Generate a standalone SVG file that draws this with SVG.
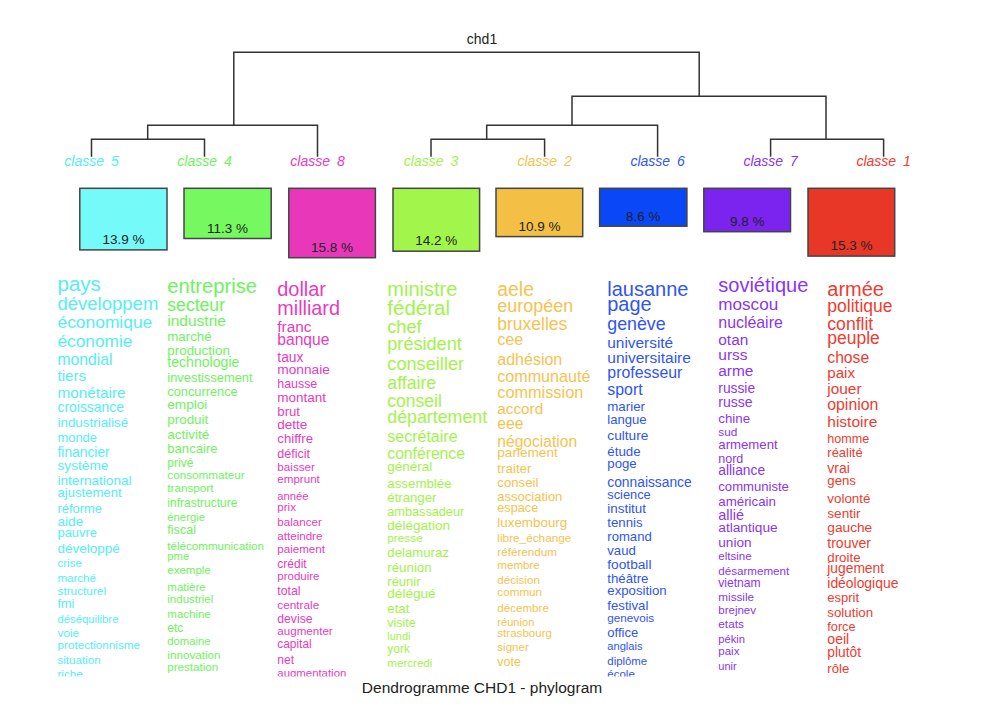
<svg xmlns="http://www.w3.org/2000/svg" width="988" height="720" viewBox="0 0 988 720">
<style>
text{font-family:"Liberation Sans",Arial,sans-serif}
.ln{stroke:#333;stroke-width:1.5;fill:none;stroke-linecap:square}
.box{stroke:#444;stroke-width:1.5}
.pct{fill:#222;font-size:13.5px;text-anchor:middle}
.lab{font-size:14px;font-style:italic;text-anchor:middle;word-spacing:3px}
.c5{fill:#55EEF6}.c4{fill:#6FF25E}.c8{fill:#E53CC0}.c3{fill:#A3F24C}
.c2{fill:#F7C24F}.c6{fill:#2F55F4}.c7{fill:#8A35F2}.c1{fill:#EE3B30}
.ttl{fill:#222;text-anchor:middle}
</style>
<defs>
<clipPath id="clipAll"><rect x="0" y="265" width="988" height="411.5"/></clipPath>
<clipPath id="clipC5"><rect x="50" y="265" width="108.5" height="411.5"/></clipPath>
</defs>
<rect width="988" height="720" fill="#fff"/>
<text class="ttl" x="482" y="43.5" font-size="14">chd1</text>
<g id="connectors">
<path class="ln" d="M233.8 125.3V52.3H699.2V96.3"/>
<path class="ln" d="M147.7 139.3V125.3H317.5V156"/>
<path class="ln" d="M91.5 156V139.3H204.5V156"/>
<path class="ln" d="M572 125.3V96.3H826V139.3"/>
<path class="ln" d="M486.7 139.3V125.3H657.6V156"/>
<path class="ln" d="M431 156V139.3H544.6V156"/>
<path class="ln" d="M770.6 156V139.3H883.6V156"/>
</g>
<g id="classe5">
<text class="lab c5" x="91.5" y="166">classe 5</text>
<rect class="box" x="79.8" y="188.3" width="87.2" height="61.6" fill="#75FAFA"/>
<text class="pct" x="123.4" y="243.5">13.9 %</text>
<g class="c5" clip-path="url(#clipC5)">
<text x="57.5" y="291" font-size="20.5">pays</text>
<text x="57.5" y="309.5" font-size="18.5">développement</text>
<text x="57.5" y="328" font-size="17.4">économique</text>
<text x="57.5" y="347" font-size="17.3">économie</text>
<text x="57.5" y="365" font-size="15.7">mondial</text>
<text x="57.5" y="380.5" font-size="15.2">tiers</text>
<text x="57.5" y="398" font-size="15.3">monétaire</text>
<text x="57.5" y="411.7" font-size="13.9">croissance</text>
<text x="57.5" y="426.7" font-size="13.4">industrialisé</text>
<text x="57.5" y="441.7" font-size="12.9">monde</text>
<text x="57.5" y="456.7" font-size="13.8">financier</text>
<text x="57.5" y="470" font-size="13.7">système</text>
<text x="57.5" y="485" font-size="13.6">international</text>
<text x="57.5" y="497.3" font-size="13.1">ajustement</text>
<text x="57.5" y="513.3" font-size="12.9">réforme</text>
<text x="57.5" y="526" font-size="13.6">aide</text>
<text x="57.5" y="536.7" font-size="12.9">pauvre</text>
<text x="57.5" y="553.3" font-size="13.5">développé</text>
<text x="57.5" y="567.3" font-size="11.5">crise</text>
<text x="57.5" y="581.7" font-size="11.5">marché</text>
<text x="57.5" y="595" font-size="11.8">structurel</text>
<text x="57.5" y="608.3" font-size="12.5">fmi</text>
<text x="57.5" y="622.7" font-size="11.3">déséquilibre</text>
<text x="57.5" y="636.7" font-size="11.8">voie</text>
<text x="57.5" y="649.3" font-size="11.7">protectionnisme</text>
<text x="57.5" y="664" font-size="11.6">situation</text>
<text x="57.5" y="677.5" font-size="11.6">riche</text>
</g>
</g>
<g id="classe4">
<text class="lab c4" x="204.5" y="166">classe 4</text>
<rect class="box" x="184" y="188.3" width="87.2" height="50.2" fill="#76F960"/>
<text class="pct" x="227.6" y="232.5">11.3 %</text>
<g class="c4" clip-path="url(#clipAll)">
<text x="167.3" y="292.7" font-size="20.2">entreprise</text>
<text x="167.3" y="310.7" font-size="17.6">secteur</text>
<text x="167.3" y="326" font-size="15.5">industrie</text>
<text x="167.3" y="340.7" font-size="13.3">marché</text>
<text x="167.3" y="355" font-size="13.4">production</text>
<text x="167.3" y="366.7" font-size="14.1">technologie</text>
<text x="167.3" y="382.3" font-size="12.9">investissement</text>
<text x="167.3" y="395.7" font-size="12.8">concurrence</text>
<text x="167.3" y="409.3" font-size="13.6">emploi</text>
<text x="167.3" y="424" font-size="13.4">produit</text>
<text x="167.3" y="439.3" font-size="13.5">activité</text>
<text x="167.3" y="452.7" font-size="13.1">bancaire</text>
<text x="167.3" y="466.7" font-size="12">privé</text>
<text x="167.3" y="479.3" font-size="11.7">consommateur</text>
<text x="167.3" y="491.7" font-size="11.7">transport</text>
<text x="167.3" y="506.7" font-size="12">infrastructure</text>
<text x="167.3" y="520.7" font-size="11.3">énergie</text>
<text x="167.3" y="534" font-size="12.6">fiscal</text>
<text x="167.3" y="550" font-size="11.6">télécommunication</text>
<text x="167.3" y="560" font-size="11.3">pme</text>
<text x="167.3" y="574" font-size="11.5">exemple</text>
<text x="167.3" y="590.7" font-size="11.5">matière</text>
<text x="167.3" y="603.3" font-size="11.5">industriel</text>
<text x="167.3" y="617.7" font-size="11.5">machine</text>
<text x="167.3" y="631.7" font-size="12">etc</text>
<text x="167.3" y="645" font-size="11.3">domaine</text>
<text x="167.3" y="658.7" font-size="11.7">innovation</text>
<text x="167.3" y="671" font-size="11.6">prestation</text>
</g>
</g>
<g id="classe8">
<text class="lab c8" x="317.5" y="166">classe 8</text>
<rect class="box" x="288.8" y="188.3" width="86.6" height="69.4" fill="#E838B9"/>
<text class="pct" x="332.1" y="251.5">15.8 %</text>
<g class="c8" clip-path="url(#clipAll)">
<text x="277.3" y="296" font-size="19.9">dollar</text>
<text x="277.3" y="315" font-size="19.8">milliard</text>
<text x="277.3" y="331.7" font-size="15.4">franc</text>
<text x="277.3" y="345" font-size="15.6">banque</text>
<text x="277.3" y="361.7" font-size="13.8">taux</text>
<text x="277.3" y="374" font-size="13.7">monnaie</text>
<text x="277.3" y="388.3" font-size="12.4">hausse</text>
<text x="277.3" y="401.7" font-size="13.5">montant</text>
<text x="277.3" y="415.7" font-size="13.2">brut</text>
<text x="277.3" y="429.3" font-size="13.5">dette</text>
<text x="277.3" y="443.3" font-size="13.2">chiffre</text>
<text x="277.3" y="458.3" font-size="12.5">déficit</text>
<text x="277.3" y="470.7" font-size="11.7">baisser</text>
<text x="277.3" y="483.3" font-size="11.6">emprunt</text>
<text x="277.3" y="500" font-size="11.2">année</text>
<text x="277.3" y="510.7" font-size="11.6">prix</text>
<text x="277.3" y="526" font-size="11.6">balancer</text>
<text x="277.3" y="540" font-size="11.6">atteindre</text>
<text x="277.3" y="552.7" font-size="11.6">paiement</text>
<text x="277.3" y="568.3" font-size="12">crédit</text>
<text x="277.3" y="580" font-size="11.5">produire</text>
<text x="277.3" y="595" font-size="12.3">total</text>
<text x="277.3" y="609" font-size="11.8">centrale</text>
<text x="277.3" y="622.7" font-size="12.2">devise</text>
<text x="277.3" y="635" font-size="11.6">augmenter</text>
<text x="277.3" y="648.3" font-size="11.9">capital</text>
<text x="277.3" y="664" font-size="12">net</text>
<text x="277.3" y="677" font-size="11.4">augmentation</text>
</g>
</g>
<g id="classe3">
<text class="lab c3" x="431" y="166">classe 3</text>
<rect class="box" x="393" y="188.3" width="86.6" height="62.9" fill="#A1F54B"/>
<text class="pct" x="436.3" y="245">14.2 %</text>
<g class="c3" clip-path="url(#clipAll)">
<text x="387.3" y="296" font-size="20">ministre</text>
<text x="387.3" y="315" font-size="20.5">fédéral</text>
<text x="387.3" y="333.3" font-size="18.1">chef</text>
<text x="387.3" y="350" font-size="18.1">président</text>
<text x="387.3" y="370" font-size="18.2">conseiller</text>
<text x="387.3" y="389" font-size="17.7">affaire</text>
<text x="387.3" y="407.3" font-size="17.5">conseil</text>
<text x="387.3" y="422.7" font-size="17.8">département</text>
<text x="387.3" y="441.7" font-size="16">secrétaire</text>
<text x="387.3" y="459.3" font-size="15.7">conférence</text>
<text x="387.3" y="471" font-size="13.5">général</text>
<text x="387.3" y="488.3" font-size="13.3">assemblée</text>
<text x="387.3" y="501.7" font-size="13.2">étranger</text>
<text x="387.3" y="516" font-size="12.7">ambassadeur</text>
<text x="387.3" y="530" font-size="13.6">délégation</text>
<text x="387.3" y="541.7" font-size="11.8">presse</text>
<text x="387.3" y="557.3" font-size="13.2">delamuraz</text>
<text x="387.3" y="571.7" font-size="13.3">réunion</text>
<text x="387.3" y="586" font-size="13">réunir</text>
<text x="387.3" y="598.3" font-size="13.6">délégué</text>
<text x="387.3" y="612.7" font-size="13.2">etat</text>
<text x="387.3" y="626.7" font-size="12.4">visite</text>
<text x="387.3" y="640" font-size="11">lundi</text>
<text x="387.3" y="652.7" font-size="12">york</text>
<text x="387.3" y="667.3" font-size="11.6">mercredi</text>
</g>
</g>
<g id="classe2">
<text class="lab c2" x="544.6" y="166">classe 2</text>
<rect class="box" x="496" y="188.3" width="86.7" height="48.3" fill="#F4BF45"/>
<text class="pct" x="539.4" y="230.5">10.9 %</text>
<g class="c2" clip-path="url(#clipAll)">
<text x="497.3" y="296" font-size="19.4">aele</text>
<text x="497.3" y="311.7" font-size="18">européen</text>
<text x="497.3" y="330" font-size="17.5">bruxelles</text>
<text x="497.3" y="345" font-size="16.1">cee</text>
<text x="497.3" y="365" font-size="16">adhésion</text>
<text x="497.3" y="381.7" font-size="16.1">communauté</text>
<text x="497.3" y="398.3" font-size="16.3">commission</text>
<text x="497.3" y="414" font-size="15.3">accord</text>
<text x="497.3" y="429.3" font-size="15.6">eee</text>
<text x="497.3" y="446.7" font-size="15.6">négociation</text>
<text x="497.3" y="456.7" font-size="13.6">parlement</text>
<text x="497.3" y="473.3" font-size="13.4">traiter</text>
<text x="497.3" y="487.3" font-size="13.2">conseil</text>
<text x="497.3" y="500.7" font-size="13">association</text>
<text x="497.3" y="511.7" font-size="12.7">espace</text>
<text x="497.3" y="527.3" font-size="13.4">luxembourg</text>
<text x="497.3" y="541.7" font-size="11.8">libre_échange</text>
<text x="497.3" y="556" font-size="11.7">référendum</text>
<text x="497.3" y="569.3" font-size="11.6">membre</text>
<text x="497.3" y="584" font-size="11.6">décision</text>
<text x="497.3" y="596" font-size="11.7">commun</text>
<text x="497.3" y="611.7" font-size="11.6">décembre</text>
<text x="497.3" y="626" font-size="11.1">réunion</text>
<text x="497.3" y="636.7" font-size="11.6">strasbourg</text>
<text x="497.3" y="650.7" font-size="11.6">signer</text>
<text x="497.3" y="666" font-size="12.5">vote</text>
</g>
</g>
<g id="classe6">
<text class="lab c6" x="657.6" y="166">classe 6</text>
<rect class="box" x="599.6" y="188.3" width="87.3" height="37.9" fill="#0A47F7"/>
<text class="pct" x="643.2" y="220.5">8.6 %</text>
<g class="c6" clip-path="url(#clipAll)">
<text x="607.3" y="296" font-size="20">lausanne</text>
<text x="607.3" y="310.7" font-size="19.9">page</text>
<text x="607.3" y="330" font-size="17.8">genève</text>
<text x="607.3" y="348.3" font-size="15.4">université</text>
<text x="607.3" y="363.3" font-size="15.5">universitaire</text>
<text x="607.3" y="378.3" font-size="15.9">professeur</text>
<text x="607.3" y="395" font-size="15.9">sport</text>
<text x="607.3" y="410.7" font-size="13.3">marier</text>
<text x="607.3" y="424" font-size="13.1">langue</text>
<text x="607.3" y="440" font-size="13.7">culture</text>
<text x="607.3" y="456" font-size="13.3">étude</text>
<text x="607.3" y="468.3" font-size="13.2">poge</text>
<text x="607.3" y="486.7" font-size="13.8">connaissance</text>
<text x="607.3" y="499.3" font-size="12.8">science</text>
<text x="607.3" y="513.3" font-size="13.4">institut</text>
<text x="607.3" y="527.3" font-size="13.2">tennis</text>
<text x="607.3" y="540.7" font-size="13.1">romand</text>
<text x="607.3" y="555" font-size="13.1">vaud</text>
<text x="607.3" y="569.3" font-size="13.7">football</text>
<text x="607.3" y="583.3" font-size="13.2">théâtre</text>
<text x="607.3" y="595" font-size="13.2">exposition</text>
<text x="607.3" y="610" font-size="13.2">festival</text>
<text x="607.3" y="621.7" font-size="11.7">genevois</text>
<text x="607.3" y="637.3" font-size="13">office</text>
<text x="607.3" y="650" font-size="11.1">anglais</text>
<text x="607.3" y="665" font-size="11.4">diplôme</text>
<text x="607.3" y="678" font-size="11.5">école</text>
</g>
</g>
<g id="classe7">
<text class="lab c7" x="770.6" y="166">classe 7</text>
<rect class="box" x="703.8" y="188.3" width="86.7" height="43.4" fill="#7B24F0"/>
<text class="pct" x="747.2" y="225.5">9.8 %</text>
<g class="c7" clip-path="url(#clipAll)">
<text x="718.3" y="291.7" font-size="20">soviétique</text>
<text x="718.3" y="310" font-size="17.1">moscou</text>
<text x="718.3" y="328.3" font-size="15.9">nucléaire</text>
<text x="718.3" y="345" font-size="15.4">otan</text>
<text x="718.3" y="360" font-size="15.5">urss</text>
<text x="718.3" y="376" font-size="15.4">arme</text>
<text x="718.3" y="392.7" font-size="13.8">russie</text>
<text x="718.3" y="406.7" font-size="14">russe</text>
<text x="718.3" y="422.7" font-size="13.3">chine</text>
<text x="718.3" y="436" font-size="11.8">sud</text>
<text x="718.3" y="449.3" font-size="13.2">armement</text>
<text x="718.3" y="463.3" font-size="12.5">nord</text>
<text x="718.3" y="475" font-size="13.8">alliance</text>
<text x="718.3" y="490.7" font-size="13.1">communiste</text>
<text x="718.3" y="506" font-size="13.3">américain</text>
<text x="718.3" y="520" font-size="14.4">allié</text>
<text x="718.3" y="531.7" font-size="13.7">atlantique</text>
<text x="718.3" y="546.7" font-size="13.6">union</text>
<text x="718.3" y="560" font-size="11.5">eltsine</text>
<text x="718.3" y="575" font-size="11.6">désarmement</text>
<text x="718.3" y="587.3" font-size="12.1">vietnam</text>
<text x="718.3" y="600.7" font-size="11.7">missile</text>
<text x="718.3" y="614" font-size="11.5">brejnev</text>
<text x="718.3" y="628.3" font-size="11.8">etats</text>
<text x="718.3" y="642.7" font-size="11.2">pékin</text>
<text x="718.3" y="655" font-size="11.5">paix</text>
<text x="718.3" y="670" font-size="11">unir</text>
</g>
</g>
<g id="classe1">
<text class="lab c1" x="883.6" y="166">classe 1</text>
<rect class="box" x="808" y="188.3" width="86.7" height="67.8" fill="#E93727"/>
<text class="pct" x="851.4" y="250">15.3 %</text>
<g class="c1" clip-path="url(#clipAll)">
<text x="827.3" y="296" font-size="20">armée</text>
<text x="827.3" y="311.7" font-size="17.5">politique</text>
<text x="827.3" y="330" font-size="17.6">conflit</text>
<text x="827.3" y="344" font-size="17.5">peuple</text>
<text x="827.3" y="363.3" font-size="15.7">chose</text>
<text x="827.3" y="378.3" font-size="15.1">paix</text>
<text x="827.3" y="394" font-size="15.4">jouer</text>
<text x="827.3" y="410" font-size="15.8">opinion</text>
<text x="827.3" y="427.3" font-size="15.5">histoire</text>
<text x="827.3" y="443.3" font-size="12.6">homme</text>
<text x="827.3" y="457.3" font-size="13">réalité</text>
<text x="827.3" y="473" font-size="14">vrai</text>
<text x="827.3" y="485" font-size="13.2">gens</text>
<text x="827.3" y="503.3" font-size="13.4">volonté</text>
<text x="827.3" y="518.3" font-size="13.6">sentir</text>
<text x="827.3" y="531.7" font-size="13.7">gauche</text>
<text x="827.3" y="548.3" font-size="14">trouver</text>
<text x="827.3" y="561.7" font-size="13.3">droite</text>
<text x="827.3" y="573.3" font-size="13.8">jugement</text>
<text x="827.3" y="588.3" font-size="13.9">idéologique</text>
<text x="827.3" y="601.7" font-size="13">esprit</text>
<text x="827.3" y="616.7" font-size="13.3">solution</text>
<text x="827.3" y="630.7" font-size="12.7">force</text>
<text x="827.3" y="644" font-size="14.1">oeil</text>
<text x="827.3" y="657.3" font-size="13.8">plutôt</text>
<text x="827.3" y="672.7" font-size="13.2">rôle</text>
</g>
</g>
<text class="ttl" x="482" y="693" font-size="15.5">Dendrogramme CHD1 - phylogram</text>
</svg>
